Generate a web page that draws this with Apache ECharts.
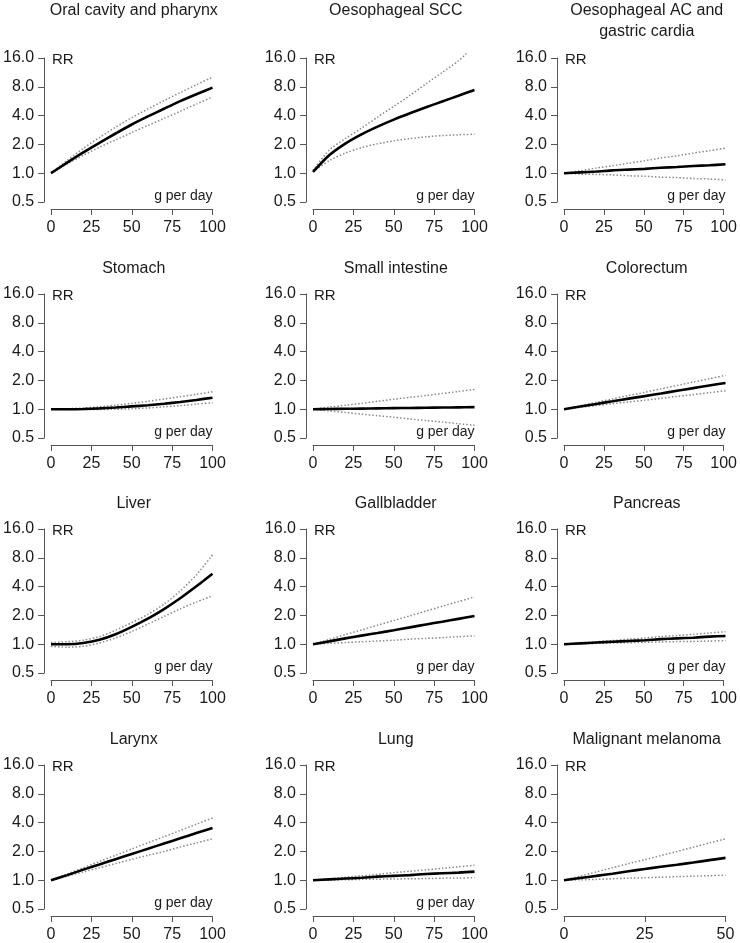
<!DOCTYPE html>
<html>
<head>
<meta charset="utf-8">
<script src="https://cdn.jsdelivr.net/npm/echarts@6/dist/echarts.min.js"></script>
<style>
html, body { margin: 0; padding: 0; background: #fff; }
#chart { width: 740px; height: 943px; }
</style>
</head>
<body>
<div id="chart"></div>
<script>
// dose grids (g per day)
var doseX = [0, 10, 20, 30, 40, 50, 60, 70, 80, 90, 100];
var melanomaX = [0, 5, 10, 15, 20, 25, 30, 35, 40, 45, 50];
var sccUpperX = [0, 10, 20, 30, 40, 50, 60, 70, 80, 90, 95];

var yTicks = [0.5, 1, 2, 4, 8, 16];

// relative risks: mean, lower and upper bounds
var oralMean = [1, 1.29, 1.65, 2.08, 2.6, 3.23, 3.92, 4.72, 5.66, 6.68, 7.84];
var oralLo   = [1, 1.25, 1.54, 1.87, 2.23, 2.66, 3.16, 3.73, 4.44, 5.28, 6.28];
var oralHi   = [1, 1.36, 1.82, 2.36, 3.03, 3.81, 4.69, 5.74, 6.96, 8.4, 10.1];

var sccMean = [1.03, 1.54, 2.04, 2.55, 3.07, 3.63, 4.23, 4.89, 5.62, 6.45, 7.41];
var sccLo   = [1.03, 1.35, 1.62, 1.85, 2.03, 2.18, 2.3, 2.4, 2.47, 2.52, 2.56];
var sccHi   = [1.07, 1.74, 2.3, 2.95, 3.86, 5.0, 6.5, 8.6, 11.3, 14.9, 17.8];

var acMean = [1, 1.02, 1.04, 1.07, 1.09, 1.11, 1.14, 1.16, 1.19, 1.21, 1.24];
var acLo   = [1, 0.98, 0.97, 0.96, 0.94, 0.93, 0.91, 0.9, 0.88, 0.87, 0.85];
var acHi   = [1, 1.06, 1.13, 1.2, 1.27, 1.35, 1.44, 1.52, 1.62, 1.72, 1.83];

var stomachMean = [1, 1, 1.005, 1.02, 1.04, 1.07, 1.1, 1.14, 1.19, 1.25, 1.32];
var stomachLo   = [1, 0.995, 0.99, 0.99, 1.0, 1.01, 1.03, 1.06, 1.09, 1.13, 1.17];
var stomachHi   = [1, 1.01, 1.03, 1.06, 1.1, 1.15, 1.21, 1.28, 1.35, 1.43, 1.52];

var smallMean = [1, 1.005, 1.01, 1.015, 1.02, 1.025, 1.03, 1.035, 1.04, 1.045, 1.05];
var smallLo   = [1, 0.96, 0.925, 0.89, 0.855, 0.825, 0.79, 0.76, 0.735, 0.705, 0.68];
var smallHi   = [1, 1.05, 1.1, 1.15, 1.21, 1.27, 1.33, 1.39, 1.46, 1.53, 1.61];

var colonMean = [1, 1.065, 1.135, 1.21, 1.29, 1.37, 1.46, 1.56, 1.66, 1.77, 1.88];
var colonLo   = [1, 1.045, 1.09, 1.14, 1.19, 1.24, 1.3, 1.36, 1.42, 1.49, 1.56];
var colonHi   = [1, 1.085, 1.18, 1.28, 1.39, 1.5, 1.63, 1.77, 1.92, 2.08, 2.26];

var liverMean = [1, 1.0, 1.03, 1.11, 1.27, 1.52, 1.85, 2.33, 3.02, 4.03, 5.46];
var liverLo   = [0.95, 0.93, 0.95, 1.03, 1.16, 1.36, 1.62, 1.95, 2.34, 2.76, 3.2];
var liverHi   = [1.04, 1.06, 1.1, 1.2, 1.4, 1.68, 2.05, 2.62, 3.6, 5.3, 8.57];

var gallMean = [1, 1.07, 1.15, 1.23, 1.31, 1.4, 1.5, 1.61, 1.72, 1.84, 1.97];
var gallLo   = [1, 1.02, 1.04, 1.06, 1.08, 1.1, 1.13, 1.15, 1.17, 1.2, 1.22];
var gallHi   = [1, 1.12, 1.26, 1.41, 1.58, 1.77, 1.98, 2.22, 2.49, 2.79, 3.12];

var pancMean = [1, 1.02, 1.04, 1.06, 1.08, 1.1, 1.13, 1.15, 1.17, 1.2, 1.22];
var pancLo   = [1, 1.01, 1.02, 1.03, 1.035, 1.045, 1.055, 1.065, 1.07, 1.08, 1.09];
var pancHi   = [1, 1.03, 1.06, 1.09, 1.13, 1.16, 1.2, 1.23, 1.27, 1.31, 1.35];

var larynxMean = [1, 1.13, 1.29, 1.46, 1.66, 1.88, 2.13, 2.42, 2.74, 3.11, 3.52];
var larynxLo   = [1, 1.1, 1.22, 1.35, 1.49, 1.65, 1.82, 2.0, 2.22, 2.45, 2.71];
var larynxHi   = [1, 1.16, 1.35, 1.57, 1.82, 2.12, 2.46, 2.85, 3.31, 3.85, 4.47];

var lungMean = [1, 1.02, 1.04, 1.06, 1.09, 1.11, 1.13, 1.16, 1.18, 1.2, 1.23];
var lungLo   = [1, 1.005, 1.01, 1.02, 1.025, 1.03, 1.035, 1.04, 1.05, 1.055, 1.06];
var lungHi   = [1, 1.035, 1.075, 1.11, 1.15, 1.2, 1.24, 1.28, 1.33, 1.38, 1.43];

var melMean = [1, 1.055, 1.11, 1.17, 1.24, 1.31, 1.38, 1.45, 1.53, 1.62, 1.71];
var melLo   = [1, 1.01, 1.02, 1.035, 1.05, 1.06, 1.075, 1.09, 1.1, 1.115, 1.13];
var melHi   = [1, 1.1, 1.22, 1.35, 1.49, 1.64, 1.81, 2.0, 2.21, 2.45, 2.7];

var panels = [
  { name: 'Oral cavity and pharynx', x: doseX, mean: oralMean, lo: oralLo, hi: oralHi },
  { name: 'Oesophageal SCC', x: doseX, mean: sccMean, lo: sccLo, hi: sccHi, hiX: sccUpperX },
  { name: 'Oesophageal AC and\ngastric cardia', x: doseX, mean: acMean, lo: acLo, hi: acHi },
  { name: 'Stomach', x: doseX, mean: stomachMean, lo: stomachLo, hi: stomachHi },
  { name: 'Small intestine', x: doseX, mean: smallMean, lo: smallLo, hi: smallHi },
  { name: 'Colorectum', x: doseX, mean: colonMean, lo: colonLo, hi: colonHi },
  { name: 'Liver', x: doseX, mean: liverMean, lo: liverLo, hi: liverHi },
  { name: 'Gallbladder', x: doseX, mean: gallMean, lo: gallLo, hi: gallHi },
  { name: 'Pancreas', x: doseX, mean: pancMean, lo: pancLo, hi: pancHi },
  { name: 'Larynx', x: doseX, mean: larynxMean, lo: larynxLo, hi: larynxHi },
  { name: 'Lung', x: doseX, mean: lungMean, lo: lungLo, hi: lungHi },
  { name: 'Malignant melanoma', x: melanomaX, mean: melMean, lo: melLo, hi: melHi, xMax: 50, noUnit: true }
];

var font = "'Liberation Sans', Arial, sans-serif";
var colLeft = [51, 313, 564];
var rowTop = [58, 294, 529, 765];
var plotW = 161.5, plotH = 144;
var gap = 7; // R style: axes sit a little away from the data region
var axisCol = '#555';
var textCol = '#1a1a1a';

function pairs(xs, ys) {
  return xs.map(function (v, i) { return [v, ys[i]]; });
}

var grids = [], xAxes = [], yAxes = [], series = [], texts = [];
var hidden = { show: false };

function logAxis(gi, show) {
  return {
    gridIndex: gi, type: 'log', logBase: 2, min: yTicks[0], max: yTicks[yTicks.length - 1],
    show: show,
    axisLine: { show: true, lineStyle: { color: axisCol, width: 1 } },
    axisTick: { show: true, length: 6, lineStyle: { color: axisCol } },
    axisLabel: {
      margin: 10, color: textCol, fontSize: 16, fontFamily: font,
      formatter: function (v) { return Number(v).toFixed(1); }
    },
    splitLine: hidden
  };
}
function doseAxis(gi, max, show) {
  return {
    gridIndex: gi, type: 'value', min: 0, max: max, interval: 25, show: show,
    axisLine: { show: true, lineStyle: { color: axisCol, width: 1 } },
    axisTick: { show: true, length: 6, lineStyle: { color: axisCol } },
    axisLabel: { margin: 11, color: textCol, fontSize: 16, fontFamily: font },
    splitLine: hidden
  };
}

panels.forEach(function (p, i) {
  var r = Math.floor(i / 3), c = i % 3;
  var left = colLeft[c], top = rowTop[r];
  var xMax = p.xMax || 100;

  // data grid
  var gd = grids.length;
  grids.push({ left: left, top: top, width: plotW, height: plotH });
  xAxes.push(doseAxis(gd, xMax, false));
  yAxes.push(logAxis(gd, false));

  // grid carrying the RR axis, shifted left
  var gy = grids.length;
  grids.push({ left: left - gap, top: top, width: plotW, height: plotH });
  xAxes.push(doseAxis(gy, xMax, false));
  yAxes.push(logAxis(gy, true));

  // grid carrying the dose axis, shifted down
  var gx = grids.length;
  grids.push({ left: left, top: top + gap, width: plotW, height: plotH });
  xAxes.push(doseAxis(gx, xMax, true));
  yAxes.push(logAxis(gx, false));

  var dotted = { color: '#8a8a8a', width: 1.5, type: [1.5, 2] };
  var common = {
    type: 'line', xAxisIndex: gd, yAxisIndex: gd, showSymbol: false,
    smooth: 0.25, clip: false, silent: true
  };
  series.push(Object.assign({}, common, { data: pairs(p.x, p.lo), z: 2, lineStyle: dotted }));
  series.push(Object.assign({}, common, { data: pairs(p.hiX || p.x, p.hi), z: 2, lineStyle: dotted }));
  series.push(Object.assign({}, common, {
    data: pairs(p.x, p.mean), z: 3, lineStyle: { color: '#000', width: 2.6 }
  }));

  var cx = left + plotW / 2 + 2;
  texts.push({
    type: 'text', x: cx, y: r === 0 ? 0 : top - 25,
    style: { text: p.name, align: 'center', verticalAlign: r === 0 ? 'top' : 'middle',
             font: '16px ' + font, fill: textCol, lineHeight: 21 }
  });
  texts.push({
    type: 'text', x: left + 1, y: top + 2,
    style: { text: 'RR', align: 'left', verticalAlign: 'middle', font: '15px ' + font, fill: textCol }
  });
  if (!p.noUnit) {
    texts.push({
      type: 'text', x: left + plotW, y: top + plotH - 6,
      style: { text: 'g per day', align: 'right', verticalAlign: 'middle', font: '14px ' + font, fill: textCol }
    });
  }
});

var myChart = echarts.init(document.getElementById('chart'));
myChart.setOption({
  animation: false,
  backgroundColor: '#fff',
  grid: grids,
  xAxis: xAxes,
  yAxis: yAxes,
  series: series,
  graphic: texts
});
</script>
</body>
</html>
